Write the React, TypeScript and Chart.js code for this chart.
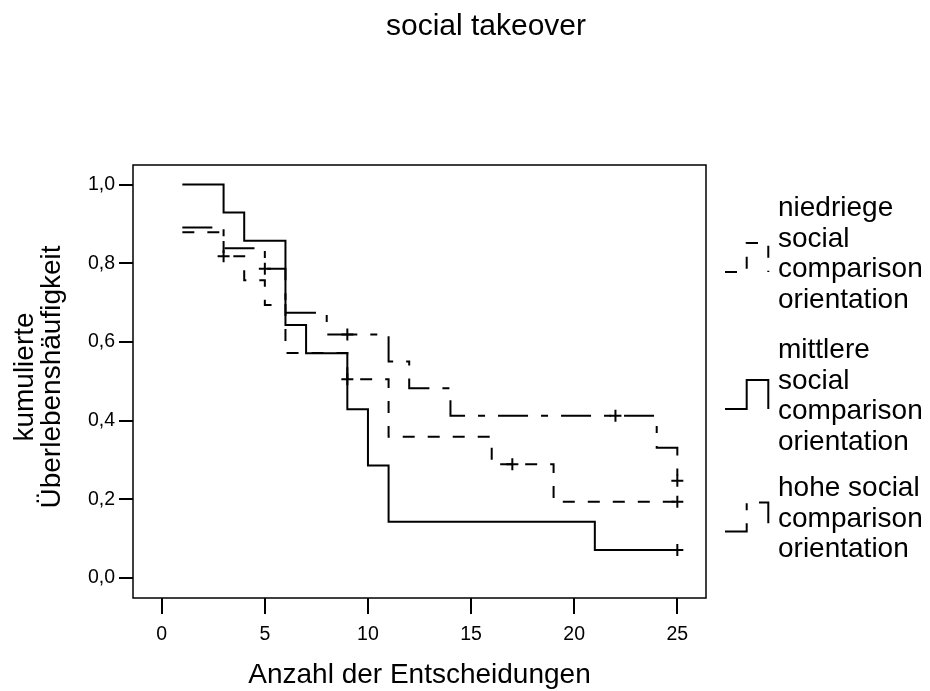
import React, { useEffect, useRef } from 'react';
import { Chart, registerables } from 'chart.js';

Chart.register(...registerables);

// ---------- data ----------
const chartTitle = 'social takeover';
const xAxisTitle = 'Anzahl der Entscheidungen';
const yAxisTitleLines = ['kumulierte', 'Überlebenshäufigkeit'];

const xTickValues = [0, 5, 10, 15, 20, 25];
const xTickLabels = ['0', '5', '10', '15', '20', '25'];
const yTickValues = [0, 0.2, 0.4, 0.6, 0.8, 1.0];
const yTickLabels = ['0,0', '0,2', '0,4', '0,6', '0,8', '1,0'];

const legendNiedrig = ['niedriege', 'social', 'comparison', 'orientation'];
const legendMittel = ['mittlere', 'social', 'comparison', 'orientation'];
const legendHoch = ['hohe social', 'comparison', 'orientation'];

// step curves: value after each event time
const niedrigTimes = [1, 3, 4, 5, 6, 9, 11, 16, 19, 25];
const niedrigSurv = [0.879, 0.818, 0.757, 0.694, 0.572, 0.505, 0.359, 0.289, 0.194, 0.194];
const niedrigCensTimes = [3, 9, 17, 25];
const niedrigCensSurv = [0.818, 0.505, 0.289, 0.194];

const mittelTimes = [1, 3, 4, 6, 7, 9, 10, 11, 21, 25];
const mittelSurv = [1.0, 0.929, 0.857, 0.643, 0.571, 0.429, 0.286, 0.143, 0.071, 0.071];
const mittelCensTimes = [25];
const mittelCensSurv = [0.071];

const hochTimes = [1, 3, 5, 6, 8, 11, 12, 14, 24, 25];
const hochSurv = [0.891, 0.838, 0.786, 0.674, 0.619, 0.55, 0.482, 0.4125, 0.331, 0.247];
const hochCensTimes = [5, 9, 22, 25];
const hochCensSurv = [0.786, 0.619, 0.4125, 0.247];

// ---------- styles ----------
const FONT = "'Liberation Sans', Arial, Helvetica, sans-serif";
const DASH_NIEDRIG = [12, 13];
const DASH_HOCH = [30, 13, 7, 13];
const DASH_MITTEL: number[] = [];

const W = 930;
const H = 691;
const AREA = { left: 133, top: 165, right: 706, bottom: 598 };
const X_MIN = -1.392;
const X_MAX = 26.39;
const Y_MIN = -0.0508;
const Y_MAX = 1.0496;

const toPts = (xs: number[], ys: number[]) => xs.map((x, i) => ({ x, y: ys[i] }));

const stepDs = (label: string, xs: number[], ys: number[], dash: number[]) => ({
  type: 'line' as const,
  label,
  data: toPts(xs, ys),
  stepped: 'before' as const,
  borderColor: '#000',
  borderWidth: 2,
  borderDash: dash,
  pointRadius: 0,
  fill: false,
  tension: 0,
});

const censDs = (label: string, xs: number[], ys: number[]) => ({
  type: 'scatter' as const,
  label,
  data: toPts(xs, ys),
  showLine: false,
  pointStyle: 'cross' as const,
  pointRadius: 6,
  pointBorderWidth: 2,
  borderColor: '#000',
  backgroundColor: '#000',
});

const legendEntries = [
  { lines: legendNiedrig, baselines: [216, 246.5, 277, 307.5], mid: 257.5, dash: DASH_NIEDRIG },
  { lines: legendMittel, baselines: [358, 388.5, 419, 449.5], mid: 394.5, dash: DASH_MITTEL },
  { lines: legendHoch, baselines: [496, 526.5, 557], mid: 517, dash: DASH_HOCH },
];

const decorPlugin = {
  id: 'decor',
  afterDraw(chart: any) {
    const ctx = chart.ctx as CanvasRenderingContext2D;
    const a = chart.chartArea;
    ctx.save();
    // frame
    ctx.strokeStyle = '#000';
    ctx.lineWidth = 1.5;
    ctx.setLineDash([]);
    ctx.strokeRect(a.left, a.top, a.right - a.left, a.bottom - a.top);

    ctx.fillStyle = '#000';
    // title
    ctx.font = `30px ${FONT}`;
    ctx.textAlign = 'center';
    ctx.textBaseline = 'alphabetic';
    ctx.fillText(chartTitle, 486, 35);

    // x axis title
    ctx.font = `28px ${FONT}`;
    ctx.fillText(xAxisTitle, (a.left + a.right) / 2, 683);

    // y axis title
    const yBase = [33, 60];
    yAxisTitleLines.forEach((t, i) => {
      ctx.save();
      ctx.translate(yBase[i], 377);
      ctx.rotate(-Math.PI / 2);
      ctx.fillText(t, 0, 0);
      ctx.restore();
    });

    // legend
    ctx.textAlign = 'left';
    legendEntries.forEach((e) => {
      ctx.font = `28px ${FONT}`;
      e.lines.forEach((t, i) => ctx.fillText(t, 778, e.baselines[i]));
      ctx.beginPath();
      ctx.lineWidth = 2;
      ctx.setLineDash(e.dash);
      const b = e.mid + 14.5;
      const tp = e.mid - 14.5;
      ctx.moveTo(725, b);
      ctx.lineTo(746.7, b);
      ctx.lineTo(746.7, tp);
      ctx.lineTo(768.3, tp);
      ctx.lineTo(768.3, b);
      ctx.stroke();
    });
    ctx.restore();
  },
};

export default function App() {
  const ref = useRef<HTMLCanvasElement | null>(null);

  useEffect(() => {
    if (!ref.current) return;
    const chart = new Chart(ref.current, {
      type: 'line',
      data: {
        datasets: [
          stepDs('niedriege social comparison orientation', niedrigTimes, niedrigSurv, DASH_NIEDRIG),
          stepDs('mittlere social comparison orientation', mittelTimes, mittelSurv, DASH_MITTEL),
          stepDs('hohe social comparison orientation', hochTimes, hochSurv, DASH_HOCH),
          censDs('niedriege zensiert', niedrigCensTimes, niedrigCensSurv),
          censDs('mittlere zensiert', mittelCensTimes, mittelCensSurv),
          censDs('hohe zensiert', hochCensTimes, hochCensSurv),
        ] as any,
      },
      options: {
        responsive: false,
        animation: false,
        devicePixelRatio: 1,
        layout: { padding: { top: AREA.top, right: W - AREA.right, left: 0, bottom: 0 } },
        plugins: {
          legend: { display: false },
          title: { display: false },
          tooltip: { enabled: false },
        },
        scales: {
          x: {
            type: 'linear',
            min: X_MIN,
            max: X_MAX,
            afterBuildTicks: (s: any) => {
              s.ticks = xTickValues.map((v) => ({ value: v }));
            },
            afterFit: (s: any) => {
              s.height = H - AREA.bottom;
            },
            ticks: {
              callback: (v: any) => xTickLabels[xTickValues.indexOf(Number(v))] ?? '',
              font: { family: FONT, size: 19.5 },
              color: '#000',
              padding: 9,
              maxRotation: 0,
              autoSkip: false,
            },
            grid: { display: true, drawOnChartArea: false, drawTicks: true, tickLength: 16, color: '#000', lineWidth: 2 },
            border: { display: false },
          },
          y: {
            type: 'linear',
            min: Y_MIN,
            max: Y_MAX,
            afterBuildTicks: (s: any) => {
              s.ticks = yTickValues.map((v) => ({ value: v }));
            },
            afterFit: (s: any) => {
              s.width = AREA.left;
            },
            ticks: {
              callback: (v: any) => {
                const idx = yTickValues.findIndex((t) => Math.abs(t - Number(v)) < 1e-6);
                return idx >= 0 ? yTickLabels[idx] : '';
              },
              font: { family: FONT, size: 19.5 },
              color: '#000',
              padding: 4,
              autoSkip: false,
            },
            grid: { display: true, drawOnChartArea: false, drawTicks: true, tickLength: 14, color: '#000', lineWidth: 2 },
            border: { display: false },
          },
        },
      },
      plugins: [decorPlugin],
    });
    return () => chart.destroy();
  }, []);

  return (
    <div style={{ position: 'fixed', left: 0, top: 0, width: W, height: H, background: '#fff' }}>
      <canvas ref={ref} width={W} height={H} style={{ width: W, height: H, display: 'block' }} />
    </div>
  );
}
